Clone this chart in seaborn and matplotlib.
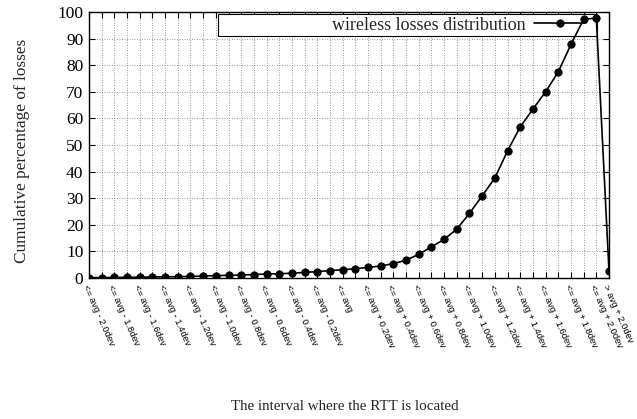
import numpy as np
import pandas as pd
import matplotlib
matplotlib.use("Agg")
import matplotlib.pyplot as plt
from matplotlib.patches import Rectangle
import seaborn as sns

# ---- data ----
interval_labels = [
    "<= avg - 2.0dev", "", "<= avg - 1.8dev", "", "<= avg - 1.6dev", "",
    "<= avg - 1.4dev", "", "<= avg - 1.2dev", "", "<= avg - 1.0dev", "",
    "<= avg - 0.8dev", "", "<= avg - 0.6dev", "", "<= avg - 0.4dev", "",
    "<= avg - 0.2dev", "", "<= avg", "", "<= avg + 0.2dev", "",
    "<= avg + 0.4dev", "", "<= avg + 0.6dev", "", "<= avg + 0.8dev", "",
    "<= avg + 1.0dev", "", "<= avg + 1.2dev", "", "<= avg + 1.4dev", "",
    "<= avg + 1.6dev", "", "<= avg + 1.8dev", "", "<= avg + 2.0dev",
    "> avg + 2.0dev",
]
cum_pct = [
    0.1, 0.15, 0.2, 0.25, 0.3, 0.4, 0.45, 0.5, 0.6, 0.75,
    0.9, 1.0, 1.1, 1.3, 1.5, 1.6, 1.8, 2.1, 2.4, 2.8,
    3.1, 3.5, 4.0, 4.5, 5.4, 6.7, 8.9, 11.7, 14.5, 18.4,
    24.3, 30.9, 37.6, 47.8, 56.8, 63.5, 70.0, 77.5, 87.8, 97.3,
    97.7, 2.5,
]
series_name = "wireless losses distribution"
y_ticks = [0, 10, 20, 30, 40, 50, 60, 70, 80, 90, 100]

df = pd.DataFrame({"pos": np.arange(len(cum_pct)), "pct": cum_pct,
                   "series": series_name})

sns.set_style("ticks")
serif = ["Liberation Serif", "DejaVu Serif"]
sans = ["Liberation Sans", "DejaVu Sans"]
plt.rcParams["font.family"] = serif

W, H = 637, 419
fig = plt.figure(figsize=(W / 100, H / 100), dpi=100)
ax = fig.add_axes([89/W, 1 - 278/H, 520/W, 266/H])

sns.lineplot(data=df, x="pos", y="pct", hue="series", palette=["black"],
             marker="o", markersize=5.2, markeredgecolor="black",
             linewidth=1.2, ax=ax, zorder=3)

ax.set_xlim(0, len(cum_pct) - 1)
ax.set_ylim(0, 100)
ax.set_yticks(y_ticks)
ax.set_yticklabels([str(v) for v in y_ticks], fontsize=12.5, family=serif)
ax.set_xticks(np.arange(len(cum_pct)))
ax.set_xticklabels(interval_labels, rotation=-66, ha="left", va="top",
                   rotation_mode="anchor", fontsize=6.8, family=sans,
                   color="#222222")

ax.grid(True, linestyle=(0, (1, 2)), color="#777777", linewidth=0.6)
ax.set_axisbelow(True)
ax.tick_params(direction="in", top=True, right=True, length=4, width=0.8,
               colors="black")
ax.tick_params(axis="y", pad=4)
ax.tick_params(axis="x", pad=4)
for s in ax.spines.values():
    s.set_linewidth(1.0)
    s.set_color("black")
    s.set_zorder(4)

ax.set_xlabel("The interval where the RTT is located", fontsize=10.8,
              family=serif)
ax.xaxis.set_label_coords((345 - 89) / 520, (278 - 406) / 266)
ax.xaxis.label.set_va("center")
ax.set_ylabel("Cumulative percentage of losses", fontsize=12.4, family=serif)
ax.yaxis.set_label_coords((22 - 89) / 520, (278 - 151) / 266)
ax.yaxis.label.set_va("center")

# legend box (gnuplot style, spanning wide, text right aligned)
box_x0, box_x1 = (218 - 89) / 520, (597 - 89) / 520
box_y0, box_y1 = (278 - 36) / 266, (278 - 14) / 266
ax.add_patch(Rectangle((box_x0, box_y0), box_x1 - box_x0, box_y1 - box_y0,
                       transform=ax.transAxes, facecolor="white",
                       edgecolor="black", linewidth=0.8, zorder=2.2))

handles, labels = ax.get_legend_handles_labels()
leg = ax.legend(handles, labels, loc="center right",
                bbox_to_anchor=((586 - 89) / 520, (box_y0 + box_y1) / 2),
                markerfirst=False, frameon=False,
                handlelength=2.9, handletextpad=0.45,
                borderpad=0.0, borderaxespad=0.0,
                prop={"family": serif, "size": 13})
leg.set_zorder(2.4)

fig.savefig("out.png", dpi=100)
